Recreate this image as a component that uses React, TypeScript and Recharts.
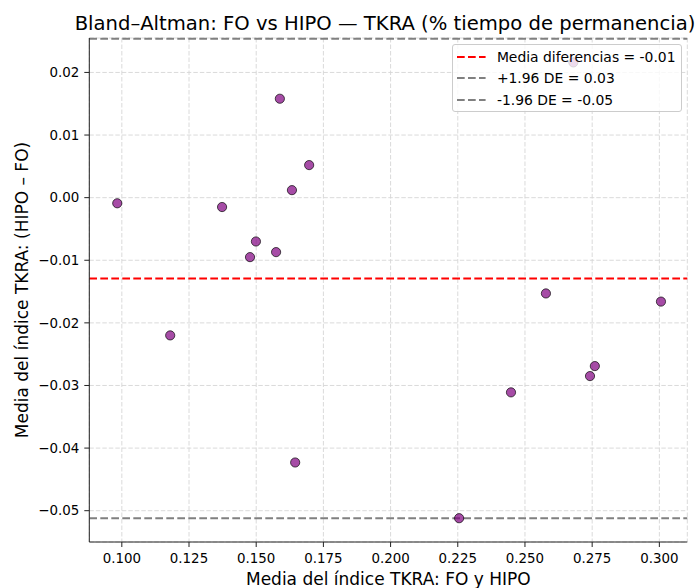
import React from 'react';
import {
  ScatterChart,
  Scatter,
  XAxis,
  YAxis,
  CartesianGrid,
  ReferenceLine,
  Legend,
  Label,
} from 'recharts';

// Mean of the two methods (x) and difference HIPO - FO (y)
const meanValues = [
  0.0983, 0.118, 0.1373, 0.1477, 0.1499, 0.1574, 0.1588, 0.1633, 0.1697,
  0.1645, 0.2255, 0.2448, 0.2578, 0.2742, 0.276, 0.3006, 0.268,
];
const diffValues = [
  -0.0009, -0.022, -0.0015, -0.0095, -0.007, -0.0087, 0.0158, 0.0012, 0.0052,
  -0.0423, -0.0512, -0.0311, -0.0153, -0.0285, -0.0269, -0.0166, 0.0216,
];

const xTicks = [0.1, 0.125, 0.15, 0.175, 0.2, 0.225, 0.25, 0.275, 0.3];
const yTicks = [-0.05, -0.04, -0.03, -0.02, -0.01, 0, 0.01, 0.02];
const xDomain = [0.0879, 0.3104];
const yDomain = [-0.055, 0.0255];

const meanDiff = -0.0129;
const upperLoA = 0.0254;
const lowerLoA = -0.0512;

const legendLabels = [
  'Media diferencias = -0.01',
  '+1.96 DE = 0.03',
  '-1.96 DE = -0.05',
];
const legendColors = ['#ff0000', '#808080', '#808080'];

const titleText = 'Bland\u2013Altman: FO vs HIPO \u2014 TKRA (% tiempo de permanencia)';
const xLabelText = 'Media del \u00edndice TKRA: FO y HIPO';
const yLabelText = 'Media del \u00edndice TKRA: (HIPO \u2013 FO)';

const data = meanValues.map((x, i) => ({ x, y: diffValues[i] }));

const FONT = '"DejaVu Sans", sans-serif';
const DASH = '7.7 3.3';

const fmtY = (v: number) =>
  (v < -1e-9 ? '\u2212' : '') + Math.abs(v).toFixed(2);
const fmtX = (v: number) => v.toFixed(3);

const Dot = (props: any) => {
  const { cx, cy } = props;
  if (cx == null || cy == null) return null;
  return (
    <circle
      cx={cx}
      cy={cy}
      r={4.6}
      fill="#800080"
      fillOpacity={0.7}
      stroke="#000"
      strokeOpacity={0.75}
      strokeWidth={0.9}
    />
  );
};

const LegendBox = () => (
  <div
    style={{
      boxSizing: 'border-box',
      width: 229.4,
      height: 67.6,
      border: '1px solid #cccccc',
      borderRadius: 3,
      background: 'rgba(255,255,255,0.8)',
      paddingTop: 0.5,
      fontFamily: FONT,
      fontSize: 13.9,
      color: '#000',
    }}
  >
    {legendLabels.map((lab, i) => (
      <div
        key={lab}
        style={{ display: 'flex', alignItems: 'center', height: 21.7 }}
      >
        <svg width={28.6} height={4} style={{ marginLeft: 3.7, flex: 'none' }}>
          <line
            x1={0}
            y1={2}
            x2={28.6}
            y2={2}
            stroke={legendColors[i]}
            strokeWidth={2}
            strokeDasharray={DASH}
          />
        </svg>
        <span style={{ marginLeft: 11.3, whiteSpace: 'nowrap' }}>{lab}</span>
      </div>
    ))}
  </div>
);

export default function App() {
  return (
    <div
      style={{
        position: 'absolute',
        left: 0,
        top: 0,
        width: 697,
        height: 588,
        background: '#fff',
      }}
    >
      <ScatterChart
        width={697}
        height={588}
        margin={{ top: 38, right: 9.7, bottom: 0, left: 0 }}
        style={{ fontFamily: FONT }}
      >
        <CartesianGrid
          stroke="#d6d6d6"
          strokeWidth={0.9}
          strokeDasharray="4.5 2"
        />
        <XAxis
          type="number"
          dataKey="x"
          domain={xDomain}
          ticks={xTicks}
          tickFormatter={fmtX}
          allowDataOverflow
          height={46}
          tickSize={5}
          tickMargin={6}
          stroke="#222"
          tick={{ fill: '#000', fontSize: 13.4, fontFamily: FONT }}
          tickLine={{ stroke: '#222' }}
          axisLine={{ stroke: '#222' }}
        >
          <Label
            value={xLabelText}
            position="insideBottom"
            offset={3.5}
            style={{ fontSize: 17, fill: '#000', fontFamily: FONT }}
          />
        </XAxis>
        <XAxis
          xAxisId="top"
          orientation="top"
          type="number"
          domain={xDomain}
          height={0}
          tick={false}
          tickLine={false}
          axisLine={{ stroke: '#222' }}
        />
        <YAxis
          type="number"
          dataKey="y"
          domain={yDomain}
          ticks={yTicks}
          tickFormatter={fmtY}
          allowDataOverflow
          width={89.3}
          tickSize={5}
          tickMargin={5}
          stroke="#222"
          tick={{ fill: '#000', fontSize: 13.4, fontFamily: FONT }}
          tickLine={{ stroke: '#222' }}
          axisLine={{ stroke: '#222' }}
        >
          <Label
            value={yLabelText}
            position="insideLeft"
            angle={-90}
            offset={22}
            style={{
              fontSize: 17,
              fill: '#000',
              fontFamily: FONT,
              textAnchor: 'middle',
            }}
          />
        </YAxis>
        <YAxis
          yAxisId="right"
          orientation="right"
          type="number"
          domain={yDomain}
          width={0}
          tick={false}
          tickLine={false}
          axisLine={{ stroke: '#222' }}
        />
        <ReferenceLine
          y={meanDiff}
          stroke="#ff0000"
          strokeWidth={2}
          strokeDasharray={DASH}
        />
        <ReferenceLine
          y={upperLoA}
          stroke="#808080"
          strokeWidth={2}
          strokeDasharray={DASH}
        />
        <ReferenceLine
          y={lowerLoA}
          stroke="#808080"
          strokeWidth={2}
          strokeDasharray={DASH}
        />
        <Scatter
          data={data}
          shape={<Dot />}
          isAnimationActive={false}
        />
        <Legend
          layout="vertical"
          align="center"
          verticalAlign="middle"
          wrapperStyle={{
            position: 'absolute',
            left: 452.3,
            top: 44.3,
            width: 229.4,
            height: 67.6,
            margin: 0,
            padding: 0,
          }}
          content={() => <LegendBox />}
        />
        <text
          x={385}
          y={30}
          textAnchor="middle"
          style={{ fontSize: 19.6, fill: '#000', fontFamily: FONT }}
        >
          {titleText}
        </text>
      </ScatterChart>
    </div>
  );
}
